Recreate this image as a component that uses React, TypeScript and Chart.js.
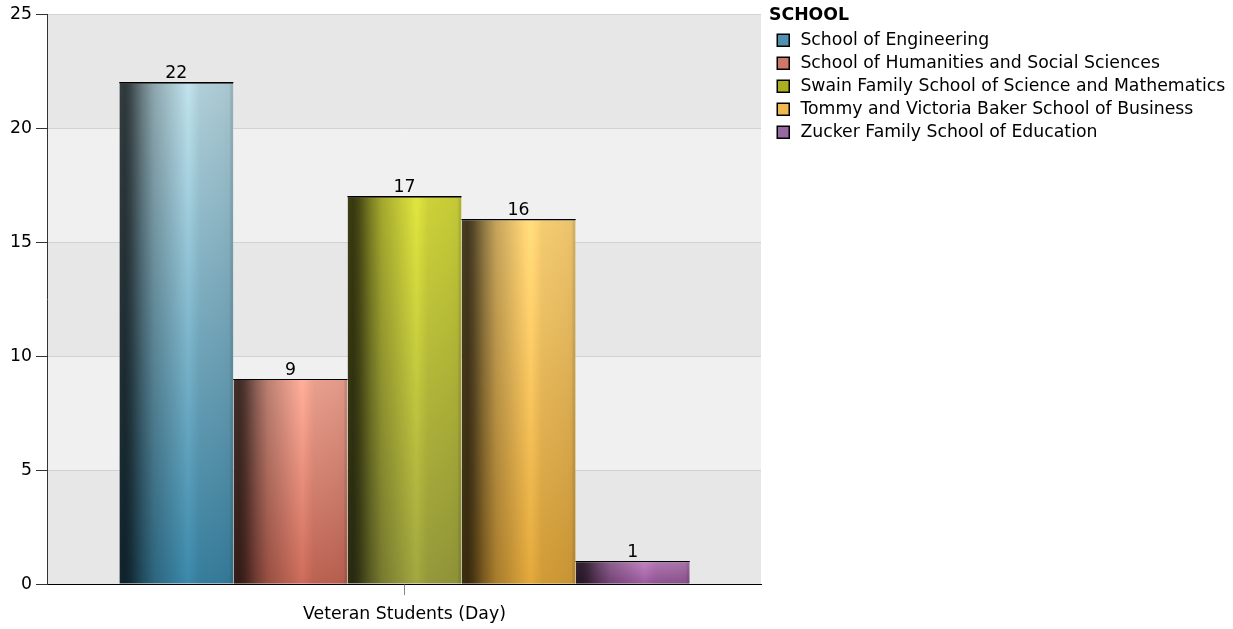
import React, { useEffect, useRef } from 'react';
import { Chart, registerables } from 'chart.js';

Chart.register(...registerables);

const categories = ['Veteran Students (Day)'];
const schools = [
  'School of Engineering',
  'School of Humanities and Social Sciences',
  'Swain Family School of Science and Mathematics',
  'Tommy and Victoria Baker School of Business',
  'Zucker Family School of Education',
];
const studentCounts = [22, 9, 17, 16, 1];
const yTicks = [0, 5, 10, 15, 20, 25];
const legendTitle = 'SCHOOL';

const legendColors = ['#5090b0', '#d07868', '#a8b020', '#f0b850', '#9868a0'];
const barTopColors = ['#b0cfd8', '#eaa08e', '#cdd238', '#f5cc72', '#b078b0'];
const barBottomColors = ['#367d9c', '#bc6252', '#94983a', '#d09a36', '#8e5290'];
const shadeStops: [number, number][] = [
  [0, 0.3], [0.05, 0.27], [0.1, 0.35], [0.2, 0.6], [0.3, 0.8], [0.45, 0.95],
  [0.6, 1.1], [0.7, 1.0], [0.9, 0.97], [0.96, 0.95], [0.97, 0.86], [1, 0.86],
];

const FONT = "'DejaVu Sans', Verdana, sans-serif";
const FS = 17.3;

function hexToRgb(h: string) {
  const n = parseInt(h.slice(1), 16);
  return [(n >> 16) & 255, (n >> 8) & 255, n & 255];
}

function shadeAt(u: number) {
  for (let i = 1; i < shadeStops.length; i++) {
    const [u1, f1] = shadeStops[i];
    const [u0, f0] = shadeStops[i - 1];
    if (u <= u1) {
      const t = u1 === u0 ? 0 : (u - u0) / (u1 - u0);
      return f0 + (f1 - f0) * t;
    }
  }
  return shadeStops[shadeStops.length - 1][1];
}

const bandPlugin = {
  id: 'bands',
  beforeDraw(chart: any) {
    const { ctx, chartArea } = chart;
    const ys = chart.scales.y;
    ctx.save();
    for (let i = 0; i < yTicks.length - 1; i++) {
      const y1 = ys.getPixelForValue(yTicks[i]);
      const y2 = ys.getPixelForValue(yTicks[i + 1]);
      ctx.fillStyle = i % 2 === 0 ? '#e7e7e7' : '#f0f0f0';
      ctx.fillRect(chartArea.left, y2, chartArea.right - chartArea.left, y1 - y2);
    }
    ctx.restore();
  },
};

// place the legend in the space reserved on the right by layout padding
const legendPlacePlugin = {
  id: 'legendPlace',
  afterLayout(chart: any) {
    const lg = chart.legend;
    if (!lg) return;
    lg.left = 769;
    lg.right = chart.width;
    lg.width = lg.right - lg.left;
  },
};

const barShadePlugin = {
  id: 'barShade',
  beforeDatasetsDraw(chart: any) {
    const ctx = chart.ctx;
    chart.data.datasets.forEach((_ds: any, di: number) => {
      const meta = chart.getDatasetMeta(di);
      meta.data.forEach((el: any) => {
        const { x, y, base, width } = el.getProps(['x', 'y', 'base', 'width'], true);
        const left = x - width / 2;
        const w = Math.max(1, Math.ceil(width));
        const h = Math.max(1, Math.ceil(base - y));
        const off = document.createElement('canvas');
        off.width = w;
        off.height = h;
        const octx = off.getContext('2d')!;
        const img = octx.createImageData(w, h);
        const top = hexToRgb(barTopColors[di]);
        const bot = hexToRgb(barBottomColors[di]);
        const prof: number[] = [];
        for (let px = 0; px < w; px++) prof.push(shadeAt((px + 0.5) / w));
        for (let py = 0; py < h; py++) {
          const t = h <= 1 ? 0 : py / (h - 1);
          const r = top[0] + (bot[0] - top[0]) * t;
          const g = top[1] + (bot[1] - top[1]) * t;
          const b = top[2] + (bot[2] - top[2]) * t;
          for (let px = 0; px < w; px++) {
            const f = prof[px];
            const k = (py * w + px) * 4;
            img.data[k] = Math.min(255, r * f);
            img.data[k + 1] = Math.min(255, g * f);
            img.data[k + 2] = Math.min(255, b * f);
            img.data[k + 3] = 255;
          }
        }
        octx.putImageData(img, 0, 0);
        const pat = ctx.createPattern(off, 'no-repeat');
        if (pat) {
          pat.setTransform(new DOMMatrix([1, 0, 0, 1, left, y]));
          try {
            el.options.backgroundColor = pat;
          } catch (e) {
            /* ignore */
          }
        }
      });
    });
  },
};

const valueLabelPlugin = {
  id: 'valueLabels',
  afterDatasetsDraw(chart: any) {
    const ctx = chart.ctx;
    ctx.save();
    ctx.font = `${FS}px ${FONT}`;
    ctx.textAlign = 'center';
    ctx.textBaseline = 'alphabetic';
    chart.data.datasets.forEach((ds: any, di: number) => {
      const meta = chart.getDatasetMeta(di);
      meta.data.forEach((el: any, i: number) => {
        const { x, y, width } = el.getProps(['x', 'y', 'width'], true);
        ctx.fillStyle = '#000';
        ctx.fillRect(x - width / 2, Math.round(y - 0.5), width, 1);
        ctx.fillText(String(ds.data[i]), x, y - 4.5);
      });
    });
    ctx.restore();
  },
};

export default function App() {
  const ref = useRef<HTMLCanvasElement>(null);
  useEffect(() => {
    document.body.style.margin = '0';
    Chart.defaults.font.family = FONT;
    Chart.defaults.color = '#000';
    const chart = new Chart(ref.current!, {
      type: 'bar',
      data: {
        labels: categories,
        datasets: schools.map((s, i) => ({
          label: s,
          data: [studentCounts[i]],
          backgroundColor: (c: any) => legendColors[c.datasetIndex],
          borderColor: '#000',
          borderWidth: { top: 1, right: 0, bottom: 0, left: 0 },
          categoryPercentage: 0.8,
          barPercentage: 1.0,
        })),
      },
      options: {
        animation: false,
        responsive: true,
        maintainAspectRatio: false,
        layout: { padding: { top: 4, left: 6, right: 471, bottom: -4.5 } },
        plugins: {
          tooltip: { enabled: false },
          legend: {
            position: 'right',
            align: 'start',
            maxWidth: 1,
            title: {
              display: true,
              text: legendTitle,
              position: 'start',
              color: '#000',
              font: { size: FS, weight: 'bold', family: FONT },
              padding: { top: 3, bottom: -2 },
            },
            labels: {
              usePointStyle: true,
              pointStyle: 'rect',
              boxWidth: 17,
              boxHeight: 12,
              padding: 5.75,
              color: '#000',
              font: { size: FS, family: FONT },
              generateLabels: (ch: any) =>
                schools.map((s, i) => ({
                  text: s,
                  fillStyle: legendColors[i],
                  strokeStyle: '#000',
                  lineWidth: 1.5,
                  pointStyle: 'rect',
                  datasetIndex: i,
                  hidden: !ch.isDatasetVisible(i),
                  fontColor: '#000',
                })),
            },
          },
        },
        scales: {
          x: {
            type: 'category',
            grid: {
              display: true,
              drawOnChartArea: false,
              offset: false,
              tickLength: 11,
              tickColor: '#888',
            },
            border: { display: true, color: '#000', width: 1 },
            ticks: { padding: 8.8, color: '#000', font: { size: FS, family: FONT } },
          },
          y: {
            min: 0,
            max: 25,
            grid: { color: '#d2d2d2', tickColor: '#333', tickLength: 12 },
            border: { display: true, color: '#333', width: 1 },
            ticks: { stepSize: 5, padding: 4, color: '#000', font: { size: FS, family: FONT } },
          },
        },
      } as any,
      plugins: [bandPlugin, legendPlacePlugin, barShadePlugin, valueLabelPlugin],
    });
    return () => chart.destroy();
  }, []);
  return (
    <div style={{ position: 'fixed', left: 0, top: 0, width: 1233, height: 629 }}>
      <canvas ref={ref} />
    </div>
  );
}
